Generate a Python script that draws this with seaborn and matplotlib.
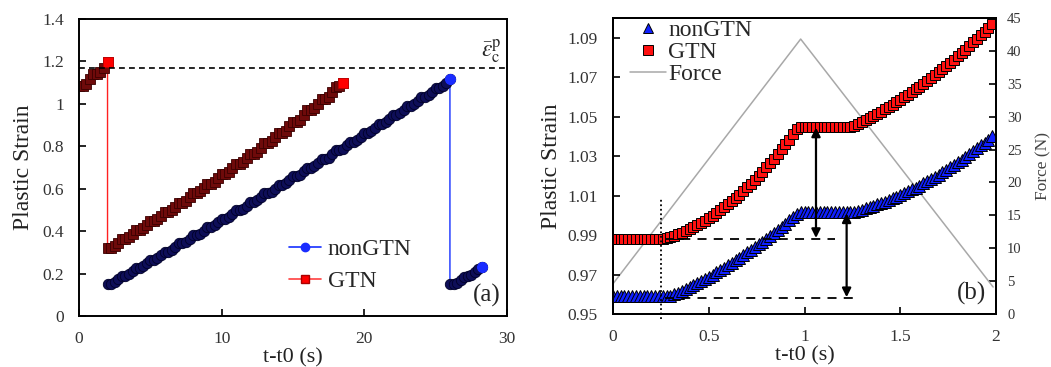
import numpy as np
import pandas as pd
import matplotlib
matplotlib.use("Agg")
import matplotlib.pyplot as plt
import seaborn as sns
from matplotlib.lines import Line2D

sns.set_theme(style="white")
plt.rcParams['font.family'] = ['Liberation Serif', 'DejaVu Serif']
plt.rcParams['mathtext.fontset'] = 'stix'

# ---------------- Panel (a) data ----------------
gtn_a_t = [0, 0.25, 0.5, 0.75, 1.0, 1.25, 1.5, 1.75, 2.0,
           2.0, 2.25, 2.5, 2.75, 3.0, 3.25, 3.5, 3.75, 4.0, 4.25, 4.5, 4.75,
           5.0, 5.25, 5.5, 5.75, 6.0, 6.25, 6.5, 6.75, 7.0, 7.25, 7.5, 7.75,
           8.0, 8.25, 8.5, 8.75, 9.0, 9.25, 9.5, 9.75, 10.0, 10.25, 10.5, 10.75,
           11.0, 11.25, 11.5, 11.75, 12.0, 12.25, 12.5, 12.75, 13.0, 13.25, 13.5, 13.75,
           14.0, 14.25, 14.5, 14.75, 15.0, 15.25, 15.5, 15.75, 16.0, 16.25, 16.5, 16.75,
           17.0, 17.25, 17.5, 17.75, 18.0, 18.25, 18.5]
gtn_a_y = [1.085, 1.085, 1.095, 1.116, 1.140, 1.140, 1.150, 1.171, 1.195,
           0.321, 0.321, 0.3286, 0.3449, 0.363, 0.363, 0.3706, 0.3869,
           0.405, 0.405, 0.4127, 0.4295, 0.448, 0.448, 0.4557, 0.4725,
           0.491, 0.491, 0.4989, 0.5161, 0.535, 0.535, 0.5429, 0.5601,
           0.579, 0.579, 0.5871, 0.6047, 0.624, 0.624, 0.6323, 0.6502,
           0.670, 0.670, 0.6785, 0.6968, 0.717, 0.717, 0.7256, 0.7444,
           0.765, 0.765, 0.7738, 0.7929, 0.814, 0.814, 0.8230, 0.8425,
           0.864, 0.864, 0.8734, 0.8936, 0.916, 0.916, 0.9255, 0.9462,
           0.969, 0.969, 0.9787, 0.9998, 1.023, 1.023, 1.0329, 1.0544,
           1.078, 1.085, 1.100]

non_a_t = [2.0, 2.25, 2.5, 2.75, 3.0, 3.25, 3.5, 3.75, 4.0, 4.25, 4.5, 4.75,
           5.0, 5.25, 5.5, 5.75, 6.0, 6.25, 6.5, 6.75, 7.0, 7.25, 7.5, 7.75,
           8.0, 8.25, 8.5, 8.75, 9.0, 9.25, 9.5, 9.75, 10.0, 10.25, 10.5, 10.75,
           11.0, 11.25, 11.5, 11.75, 12.0, 12.25, 12.5, 12.75, 13.0, 13.25, 13.5, 13.75,
           14.0, 14.25, 14.5, 14.75, 15.0, 15.25, 15.5, 15.75, 16.0, 16.25, 16.5, 16.75,
           17.0, 17.25, 17.5, 17.75, 18.0, 18.25, 18.5, 18.75, 19.0, 19.25, 19.5, 19.75,
           20.0, 20.25, 20.5, 20.75, 21.0, 21.25, 21.5, 21.75, 22.0, 22.25, 22.5, 22.75,
           23.0, 23.25, 23.5, 23.75, 24.0, 24.25, 24.5, 24.75, 25.0, 25.25, 25.5, 25.75,
           26.0,
           26.0, 26.25, 26.5, 26.75, 27.0, 27.25, 27.5, 27.75, 28.0, 28.25]
non_a_y = [0.152, 0.152, 0.1588, 0.1734, 0.1895, 0.1895, 0.1963, 0.2110,
           0.2272, 0.2272, 0.2340, 0.2489, 0.2652, 0.2652, 0.2721, 0.2870,
           0.3034, 0.3034, 0.3103, 0.3253, 0.3419, 0.3419, 0.3489, 0.3640,
           0.3806, 0.3806, 0.3876, 0.4028, 0.4195, 0.4195, 0.4266, 0.4418,
           0.4587, 0.4587, 0.4658, 0.4812, 0.4981, 0.4981, 0.5052, 0.5207,
           0.5378, 0.5378, 0.5450, 0.5605, 0.5777, 0.5777, 0.5849, 0.6006,
           0.6178, 0.6178, 0.6251, 0.6408, 0.6582, 0.6582, 0.6655, 0.6813,
           0.6988, 0.6988, 0.7061, 0.7221, 0.7396, 0.7396, 0.7470, 0.7630,
           0.7807, 0.7807, 0.7881, 0.8042, 0.8220, 0.8220, 0.8295, 0.8457,
           0.8636, 0.8636, 0.8711, 0.8874, 0.9054, 0.9054, 0.9130, 0.9293,
           0.9474, 0.9474, 0.9550, 0.9715, 0.9897, 0.9897, 0.9974, 1.0139,
           1.0322, 1.0322, 1.0399, 1.0566, 1.0750, 1.0750, 1.0827, 1.0995,
           1.1180,
           0.150, 0.150, 0.157, 0.171, 0.186, 0.187, 0.194, 0.208, 0.222, 0.232]

eps_c = 1.171  # critical plastic strain (dashed line)

# ---------------- Panel (b) data ----------------
t_b = [round(0.02 * i, 2) for i in range(100)]
gtn_b = [0.988] * 14 + [
    0.9883, 0.9889, 0.9896, 0.9903, 0.9911, 0.9920, 0.9929, 0.9939, 0.9950, 0.9961,
    0.9973, 0.9985, 0.9998, 1.0011, 1.0025, 1.0040, 1.0056, 1.0072, 1.0088, 1.0105,
    1.0123, 1.0142, 1.0161, 1.0180, 1.0200, 1.0221, 1.0243, 1.0265, 1.0287, 1.0311,
    1.0335, 1.0359, 1.0384, 1.0410, 1.0436] + [1.045] * 14 + [
    1.0455, 1.0464, 1.0473, 1.0483, 1.0493, 1.0504, 1.0515, 1.0526, 1.0537, 1.0548,
    1.0560, 1.0572, 1.0585, 1.0598, 1.0611, 1.0624, 1.0638, 1.0651, 1.0666, 1.0680,
    1.0695, 1.0710, 1.0725, 1.0741, 1.0757, 1.0773, 1.0789, 1.0806, 1.0823, 1.0840,
    1.0858, 1.0876, 1.0894, 1.0913, 1.0931, 1.0950, 1.0970]
non_b = [0.959] * 16 + [
    0.9599, 0.9608, 0.9617, 0.9627, 0.9637, 0.9647, 0.9657, 0.9667, 0.9678, 0.9689,
    0.9700, 0.9712, 0.9723, 0.9735, 0.9747, 0.9760, 0.9772, 0.9785, 0.9798, 0.9812,
    0.9825, 0.9839, 0.9853, 0.9867, 0.9882, 0.9897, 0.9912, 0.9927, 0.9942, 0.9958,
    0.9974, 0.9990, 1.0007] + [1.0015] * 14 + [
    1.0018, 1.0023, 1.0029, 1.0035, 1.0041, 1.0048, 1.0055, 1.0062, 1.0070, 1.0078,
    1.0086, 1.0094, 1.0103, 1.0112, 1.0121, 1.0131, 1.0141, 1.0151, 1.0162, 1.0172,
    1.0183, 1.0195, 1.0206, 1.0218, 1.0231, 1.0243, 1.0256, 1.0269, 1.0282, 1.0296,
    1.0310, 1.0324, 1.0339, 1.0354, 1.0369, 1.0384, 1.0400]
force_t = [0.0, 0.98, 1.985]
force_v = [4.6, 41.8, 4.1]

# reference lines / arrows in (b)
gtn_ref = 0.988
non_ref = 0.958
t_load = 0.25

fig = plt.figure(figsize=(10.51, 3.67), dpi=100)
axa = fig.add_axes([79 / 1051, 51 / 367, 428 / 1051, 297 / 367])
axb = fig.add_axes([613 / 1051, 53 / 367, 383 / 1051, 296 / 367])

TC = '#333333'
for ax in (axa, axb):
    for s in ax.spines.values():
        s.set_color('black')
        s.set_linewidth(1.4)
    ax.tick_params(direction='in', length=5, width=1.2, colors='black',
                   labelcolor=TC, labelsize=12.5, pad=11,
                   left=True, bottom=True, top=False, right=False)

# ---------- Panel (a) ----------
dfg = pd.DataFrame({'t': gtn_a_t, 'y': gtn_a_y})
dfn = pd.DataFrame({'t': non_a_t, 'y': non_a_y})
sns.lineplot(data=dfg, x='t', y='y', ax=axa, estimator=None, sort=False,
             color='#ff2020', lw=1.0, marker='s', markersize=7,
             markerfacecolor='#6e0a0a', markeredgecolor='#3a0000', markeredgewidth=0.6)
sns.lineplot(data=dfn, x='t', y='y', ax=axa, estimator=None, sort=False,
             color='#1530ff', lw=1.0, marker='o', markersize=7.5,
             markerfacecolor='#0e0e58', markeredgecolor='#000028', markeredgewidth=0.6)
# bright end markers
axa.plot(gtn_a_t[-1], gtn_a_y[-1], 's', ms=6.5, mfc='red', mec='#cc0000', mew=0.5)
axa.plot(gtn_a_t[8], gtn_a_y[8], 's', ms=6.5, mfc='red', mec='#cc0000', mew=0.5)
axa.plot(non_a_t[96], non_a_y[96], 'o', ms=7, mfc='#1a2cff', mec='#1a2cff')
axa.plot(non_a_t[-1], non_a_y[-1], 'o', ms=7, mfc='#1a2cff', mec='#1a2cff')
axa.axhline(eps_c, color='black', lw=1.2, ls=(0, (3.5, 2.5)))
axa.text(29.6, eps_c + 0.01, r'$\bar{\varepsilon}_{\mathrm{c}}^{\mathrm{p}}$', ha='right',
         va='bottom', fontsize=17)
axa.text(0.985, 0.03, '(a)', transform=axa.transAxes, ha='right', va='bottom', fontsize=18)
axa.set_xlim(0, 30)
axa.set_ylim(0, 1.4)
axa.set_xticks([0, 10, 20, 30])
axa.set_yticks([0, 0.2, 0.4, 0.6, 0.8, 1.0, 1.2, 1.4])
axa.set_yticklabels(['0', '0.2', '0.4', '0.6', '0.8', '1', '1.2', '1.4'])
axa.set_xlabel('t-t0 (s)', fontsize=16, labelpad=1, color='#222222')
axa.set_ylabel('Plastic Strain', fontsize=17, labelpad=6, color='#222222')
ha = [Line2D([], [], color='#1530ff', lw=1.2, marker='o', ms=6, mfc='#1a2cff', mec='#1a2cff'),
      Line2D([], [], color='#ff4040', lw=1.2, marker='s', ms=6, mfc='red', mec='#aa0000')]
axa.legend(ha, ['nonGTN', 'GTN'], loc='lower left', bbox_to_anchor=(0.49, 0.08),
           frameon=False, fontsize=17, handlelength=1.35, handletextpad=0.3,
           labelspacing=0.45, borderpad=0, borderaxespad=0)

# ---------- Panel (b) ----------
axf = axb.twinx()
sns.lineplot(x=force_t, y=force_v, ax=axf, estimator=None, sort=False,
             color='#a8a8a8', lw=1.1)
axf.set_ylim(0, 45)
axf.set_yticks(range(0, 46, 5))
axf.tick_params(direction='in', length=5, width=1.2, colors='black',
                labelcolor=TC, labelsize=10.5, pad=8, right=True)
axf.set_ylabel('Force (N)', fontsize=12.5, color='#444444', labelpad=10)
for s in axf.spines.values():
    s.set_color('black')
    s.set_linewidth(1.4)
axb.set_zorder(axf.get_zorder() + 1)
axb.patch.set_visible(False)

dfb = pd.DataFrame({'t': t_b, 'GTN': gtn_b, 'nonGTN': non_b})
sns.lineplot(data=dfb, x='t', y='nonGTN', ax=axb, estimator=None, sort=False,
             lw=0, marker='^', markersize=8.5, markerfacecolor='#1020ff',
             markeredgecolor='black', markeredgewidth=0.7)
sns.lineplot(data=dfb, x='t', y='GTN', ax=axb, estimator=None, sort=False,
             lw=0, marker='s', markersize=7.5, markerfacecolor='#ff1010',
             markeredgecolor='black', markeredgewidth=0.7)
axb.plot([0.27, 1.16], [gtn_ref, gtn_ref], color='black', lw=1.3, ls=(0, (5, 4)))
axb.plot([0.27, 1.27], [non_ref, non_ref], color='black', lw=1.3, ls=(0, (5, 4)))
axb.plot([t_load, t_load], [0.9475, 1.0088], color='black', lw=1.3, ls=(0, (1, 1.5)),
         clip_on=False)
arrow = dict(arrowstyle='<|-|>', color='black', lw=1.6, mutation_scale=13,
             shrinkA=0, shrinkB=0)
axb.annotate('', xy=(1.06, gtn_ref + 0.0005), xytext=(1.06, 1.0445), arrowprops=arrow)
axb.annotate('', xy=(1.22, non_ref + 0.0005), xytext=(1.22, 1.0010), arrowprops=arrow)
axb.text(0.975, 0.03, '(b)', transform=axb.transAxes, ha='right', va='bottom', fontsize=18)
axb.set_xlim(0, 2)
axb.set_ylim(0.95, 1.1)
axb.set_xticks([0, 0.5, 1, 1.5, 2])
axb.set_xticklabels(['0', '0.5', '1', '1.5', '2'])
axb.set_yticks([0.95, 0.97, 0.99, 1.01, 1.03, 1.05, 1.07, 1.09])
axb.set_yticklabels(['0.95', '0.97', '0.99', '1.01', '1.03', '1.05', '1.07', '1.09'])
axb.set_xlabel('t-t0 (s)', fontsize=16, labelpad=1, color='#222222')
axb.set_ylabel('Plastic Strain', fontsize=17, labelpad=4, color='#222222')
hb = [Line2D([], [], lw=0, marker='^', ms=7, mfc='#1020ff', mec='black', mew=0.7),
      Line2D([], [], lw=0, marker='s', ms=6.5, mfc='#ff1010', mec='black', mew=0.7),
      Line2D([], [], color='#a8a8a8', lw=1.1)]
axb.legend(hb, ['nonGTN', 'GTN', 'Force'], loc='upper left', bbox_to_anchor=(0.045, 0.995),
           frameon=False, fontsize=17, handlelength=1.5, handletextpad=0.1,
           labelspacing=0.02, borderpad=0, borderaxespad=0)

fig.savefig('out.png', dpi=100)
